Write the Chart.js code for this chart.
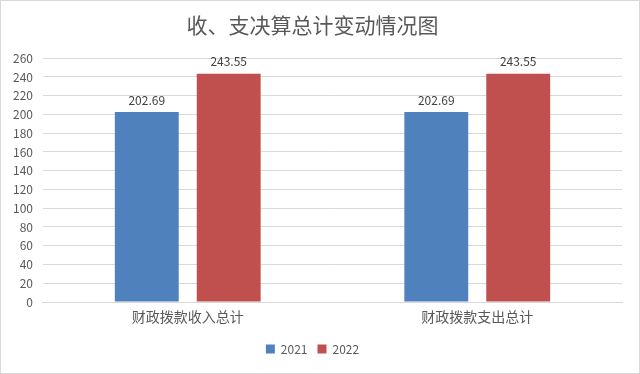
<!DOCTYPE html>
<html><head><meta charset="utf-8">
<script src="https://cdn.jsdelivr.net/npm/chart.js@4/dist/chart.umd.min.js"></script>
<style>
html,body{margin:0;padding:0;background:#fff;}
#wrap{position:absolute;left:0;top:0;width:638px;height:372px;border:1px solid #d9d9d9;}
</style></head><body>
<div id="wrap"><canvas id="c" width="638" height="372"></canvas></div>
<script>
const categories = ["财政拨款收入总计", "财政拨款支出总计"];
const seriesNames = ["2021", "2022"];
const values2021 = [202.69, 202.69];
const values2022 = [243.55, 243.55];
const colors = ["#4f81bd", "#c0504d"];
const FONT = '"Microsoft YaHei","Noto Sans CJK SC","DejaVu Sans",sans-serif';

const labelPlugin = {
  id: 'barLabels',
  afterDatasetsDraw(chart) {
    const ctx = chart.ctx;
    ctx.save();
    ctx.font = '12px ' + FONT;
    ctx.fillStyle = '#404040';
    ctx.textAlign = 'center';
    ctx.textBaseline = 'bottom';
    chart.data.datasets.forEach((ds, i) => {
      chart.getDatasetMeta(i).data.forEach((bar, j) => {
        ctx.fillText(ds.data[j].toFixed(2), bar.x, bar.y - 6);
      });
    });
    ctx.restore();
  }
};

new Chart(document.getElementById('c'), {
  type: 'bar',
  data: {
    labels: categories,
    datasets: [
      { label: seriesNames[0], data: values2021, backgroundColor: colors[0] },
      { label: seriesNames[1], data: values2022, backgroundColor: colors[1] }
    ]
  },
  options: {
    responsive: false,
    animation: false,
    devicePixelRatio: 1,
    layout: { padding: { left: 2, right: 17, top: 6, bottom: 8 } },
    datasets: { bar: { categoryPercentage: 0.566, barPercentage: 0.78 } },
    plugins: {
      title: { display: true, text: '收、支决算总计变动情况图', color: '#595959',
        font: { family: FONT, size: 21, weight: 'normal' }, padding: { top: 5, bottom: 21 } },
      legend: { position: 'bottom', labels: { boxWidth: 9, boxHeight: 9, color: '#595959',
        font: { family: FONT, size: 12 }, padding: 10 } },
      tooltip: { enabled: false }
    },
    scales: {
      x: { grid: { display: false, drawTicks: false }, border: { color: '#d9d9d9' },
        ticks: { color: '#595959', font: { family: FONT, size: 14, lineHeight: 1.0 }, padding: 8 },
        afterFit(scale) { scale.height = 31; } },
      y: { min: 0, max: 260, ticks: { stepSize: 20, color: '#595959', font: { family: FONT, size: 12 }, padding: 10 },
        grid: { color: '#d9d9d9', drawTicks: false }, border: { display: false } }
    }
  },
  plugins: [labelPlugin]
});
</script></body></html>
